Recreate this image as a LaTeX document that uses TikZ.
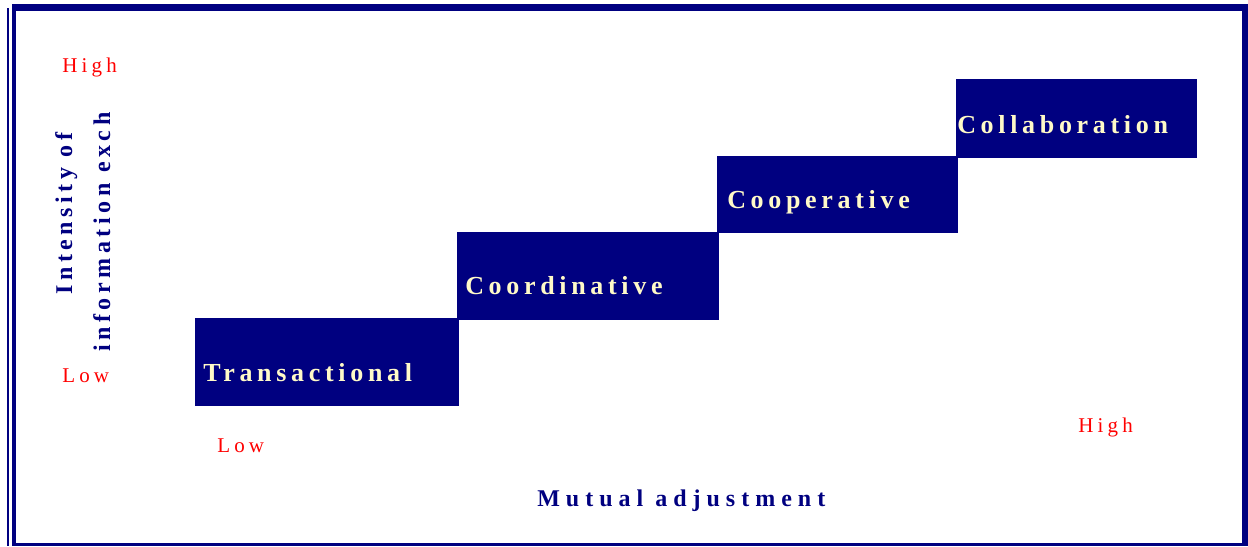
\documentclass[tikz,border=0pt]{standalone}
\usepackage{fontspec}
\setmainfont{Liberation Serif}
\newfontfamily\boxfont[LetterSpace=18]{Liberation Serif Bold}
\newfontfamily\axisfont[LetterSpace=25]{Liberation Serif Bold}
\newfontfamily\sideaxisfont[LetterSpace=19]{Liberation Serif Bold}
\newfontfamily\levelfont[LetterSpace=20]{Liberation Serif}
\definecolor{navy}{RGB}{0,0,128}
\definecolor{cream}{RGB}{255,250,200}
\definecolor{levelred}{RGB}{255,0,0}
\begin{document}
\begin{tikzpicture}[x=0.75pt,y=-0.75pt,
  stage/.style={fill=navy},
  stagetext/.style={anchor=base west,inner sep=0pt,text=cream,
    font=\boxfont\fontsize{19.5pt}{22pt}\selectfont},
  levellabel/.style={anchor=base west,inner sep=0pt,text=levelred,
    font=\levelfont\fontsize{15.75pt}{18pt}\selectfont},
  axislabel/.style={anchor=base west,inner sep=0pt,text=navy,
    font=\axisfont\fontsize{18pt}{20pt}\selectfont},
  sidelabel/.style={anchor=base west,inner sep=0pt,text=navy,rotate=90,
    font=\sideaxisfont\fontsize{18pt}{20pt}\selectfont}]
\useasboundingbox (0,0) rectangle (1248,546);
\fill[white] (0,0) rectangle (1248,546);

% frame
\draw[navy,line width=5.25pt] (14,7.5) -- (1245,7.5);
\draw[navy,line width=4.5pt] (1245,4) -- (1245,546);
\draw[navy,line width=2.6pt] (14,544.5) -- (1248,544.5);
\draw[navy,line width=3pt] (14,4) -- (14,546);
\draw[navy,line width=2.2pt] (8,8) -- (8,546);

% staircase of stages
\path[stage] (195,318) rectangle (459,406);
\path[stage] (457,232) rectangle (719,320);
\path[stage] (717,156) rectangle (958,233);
\path[stage] (956,79) rectangle (1197,158);

\node[stagetext] (trans) at (203,381) {Transactional};
\node[stagetext] (coord) at (465,294) {Coordinative};
\node[stagetext] (coop) at (727,208) {Cooperative};
\node[stagetext] (collab) at (957,133) {Collaboration};

% axis levels
\node[levellabel] (yhigh) at (62,72) {High};
\node[levellabel] (ylow) at (62,382) {Low};
\node[levellabel] (xlow) at (217,452) {Low};
\node[levellabel] (xhigh) at (1078,432) {High};

% axis titles
\node[sidelabel] (ytitleA) at (72,295) {Intensity of};
\node[sidelabel] (ytitleB) at (110,352) {information exch};
\node[axislabel] (xtitle) at (537,506) {Mutual adjustment};
\end{tikzpicture}
\end{document}
